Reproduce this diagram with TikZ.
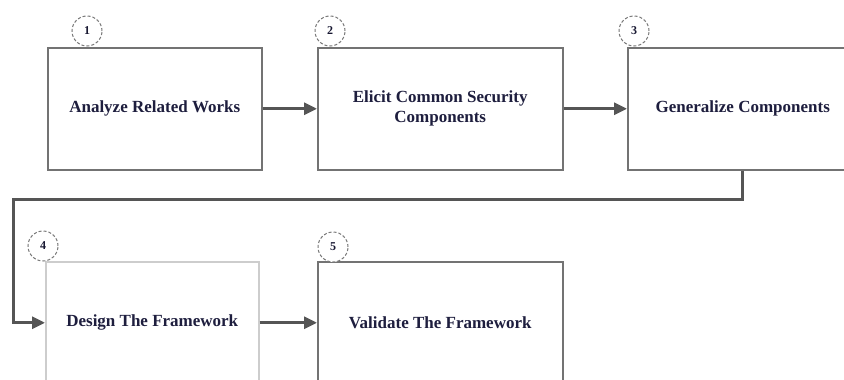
\documentclass[tikz,border=0pt]{standalone}
\usepackage{fontspec}
\setmainfont{Liberation Serif}
\usetikzlibrary{arrows.meta}
\definecolor{txtnavy}{RGB}{30,30,62}
\definecolor{boxgray}{RGB}{115,115,115}
\definecolor{paleedge}{RGB}{205,205,205}
\definecolor{flowgray}{RGB}{85,85,85}
\definecolor{ringgray}{RGB}{120,120,120}
\tikzset{
  stepbox/.style={draw=boxgray, line width=1.5pt, fill=white, rectangle,
    minimum width=#1, minimum height=122pt, inner sep=0pt, align=center,
    font=\fontsize{17}{20}\selectfont\bfseries, text=txtnavy},
  stepbox/.default=214pt,
  badge/.style={draw=ringgray, dashed, dash pattern=on 3pt off 2pt, line width=1pt,
    circle, minimum size=30pt, inner sep=0pt, fill=white,
    font=\fontsize{12}{12}\selectfont\bfseries, text=txtnavy!80!black},
  flow/.style={draw=flowgray, line width=3pt,
    -{Triangle[length=13pt,width=12pt]}},
}
\begin{document}
\begin{tikzpicture}[x=1pt, y=-1pt]
  \useasboundingbox (0,0) rectangle (844,380);
  \clip (0,0) rectangle (844,380);
  \fill[white] (0,0) rectangle (844,380);

  % top row
  \node[stepbox=214pt, anchor=north west] (s1) at (47,47) {Analyze Related Works};
  \node[stepbox=245pt, anchor=north west] (s2) at (317,47) {Elicit Common Security\\Components};
  \node[stepbox=230pt, anchor=north west] (s3) at (627,47) {Generalize Components};

  % bottom row
  \node[stepbox=213pt, draw=paleedge, anchor=north west] (s4) at (45,261) {Design The Framework};
  \node[stepbox=245pt, anchor=north west] (s5) at (317,261) {Validate The Framework};

  % step numbers
  \node[badge] (n1) at (87,31) {1};
  \node[badge] (n2) at (330,31) {2};
  \node[badge] (n3) at (634,31) {3};
  \node[badge] (n4) at (43,246) {4};
  \node[badge] (n5) at (333,247) {5};

  % connectors
  \draw[flow] (s1.east) -- (s2.west);
  \draw[flow] (s2.east) -- (s3.west);
  \coordinate (bendA) at (s3.south |- 0,199);
  \coordinate (bendB) at (13,199);
  \draw[flow] (s3.south) -- (bendA) -- (bendB) -- (bendB |- s4.west) -- (s4.west);
  \draw[flow] (s4.east) -- (s5.west);
\end{tikzpicture}
\end{document}
